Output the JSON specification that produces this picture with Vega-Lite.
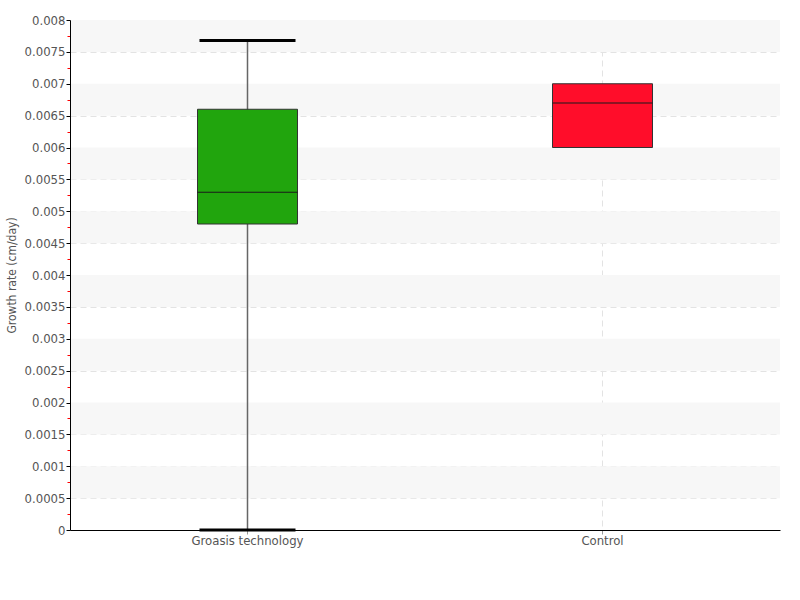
{
  "$schema": "https://vega.github.io/schema/vega-lite/v6.json",
  "width": 710,
  "height": 510,
  "autosize": "none",
  "padding": {"left": 70, "top": 20, "right": 20, "bottom": 70},
  "background": "white",
  "config": {
    "view": {"stroke": null},
    "font": "DejaVu Sans Condensed, DejaVu Sans",
    "axis": {"labelFont": "DejaVu Sans Condensed, DejaVu Sans", "titleFont": "DejaVu Sans Condensed, DejaVu Sans", "labelColor": "#555555", "titleColor": "#555555", "labelFontSize": 13, "titleFontSize": 12, "titleFontWeight": "normal"}
  },
  "datasets": {
    "boxes": [
      {"group": "Groasis technology", "min": 0, "q1": 0.0048, "median": 0.0053, "q3": 0.0066, "max": 0.00768},
      {"group": "Control", "min": null, "q1": 0.006, "median": 0.0067, "q3": 0.007, "max": null}
    ],
    "bands": [
      {"lo": 0.0075, "hi": 0.008},
      {"lo": 0.0065, "hi": 0.007},
      {"lo": 0.0055, "hi": 0.006},
      {"lo": 0.0045, "hi": 0.005},
      {"lo": 0.0035, "hi": 0.004},
      {"lo": 0.0025, "hi": 0.003},
      {"lo": 0.0015, "hi": 0.002},
      {"lo": 0.0005, "hi": 0.001}
    ]
  },
  "resolve": {"axis": {"y": "independent"}},
  "layer": [
    {
      "data": {"name": "bands"},
      "mark": {"type": "rect", "color": "#f7f7f7"},
      "encoding": {
        "y": {"field": "lo", "type": "quantitative", "scale": {"domain": [0, 0.008], "nice": false},
          "axis": {"orient": "left", "title": null, "values": [0.0005,0.001,0.0015,0.002,0.0025,0.003,0.0035,0.004,0.0045,0.005,0.0055,0.006,0.0065,0.007,0.0075,0.008],
            "labels": false, "ticks": false, "domain": false, "zindex": 0,
            "grid": true, "gridColor": "#e3e3e3", "gridDash": [6, 4], "gridWidth": 1}},
        "y2": {"field": "hi"}
      }
    },
    {
      "data": {"name": "boxes"},
      "mark": {"type": "rule", "color": "#666666", "strokeWidth": 1.5},
      "encoding": {
        "x": {"field": "group", "type": "nominal", "sort": ["Groasis technology", "Control"], "scale": {"paddingInner": 0, "paddingOuter": 0},
          "axis": {"title": null, "labelAngle": 0, "domainColor": "#000000", "tickColor": "#999999", "tickSize": 4, "labelPadding": 0,
            "grid": true, "gridColor": "#e3e3e3", "gridDash": [6, 4], "gridWidth": 1, "bandPosition": 0.5}},
        "y": {"field": "min", "type": "quantitative", "axis": {"orient": "left", "zindex": 1, "values": [0.00025,0.00075,0.00125,0.00175,0.00225,0.00275,0.00325,0.00375,0.00425,0.00475,0.00525,0.00575,0.00625,0.00675,0.00725,0.00775], "labels": false, "domain": false, "grid": false, "tickColor": "#ff0000", "tickSize": 3, "title": null}},
        "y2": {"field": "max"}
      }
    },
    {
      "data": {"name": "boxes"},
      "mark": {"type": "tick", "color": "#000000", "opacity": 1, "thickness": 3, "size": 96},
      "encoding": {
        "x": {"field": "group", "type": "nominal", "sort": ["Groasis technology", "Control"]},
        "y": {"field": "max", "type": "quantitative",
          "axis": {"orient": "left", "zindex": 1, "title": "Growth rate (cm/day)", "values": [0,0.0005,0.001,0.0015,0.002,0.0025,0.003,0.0035,0.004,0.0045,0.005,0.0055,0.006,0.0065,0.007,0.0075,0.008],
            "format": ".4~g", "domainColor": "#000000", "domainWidth": 1, "tickColor": "#000000", "tickSize": 4, "labelPadding": 1, "titlePadding": 6, "grid": false}}
      }
    },
    {
      "data": {"name": "boxes"},
      "mark": {"type": "tick", "color": "#000000", "opacity": 1, "thickness": 3, "size": 96},
      "encoding": {
        "x": {"field": "group", "type": "nominal", "sort": ["Groasis technology", "Control"]},
        "y": {"field": "min", "type": "quantitative", "axis": null}
      }
    },
    {
      "data": {"name": "boxes"},
      "mark": {"type": "bar", "width": 100, "stroke": "#333333", "strokeWidth": 1, "opacity": 1},
      "encoding": {
        "x": {"field": "group", "type": "nominal", "sort": ["Groasis technology", "Control"]},
        "y": {"field": "q1", "type": "quantitative", "axis": null},
        "y2": {"field": "q3"},
        "color": {"field": "group", "type": "nominal", "scale": {"domain": ["Groasis technology", "Control"], "range": ["#21a50d", "#ff0d2a"]}, "legend": null}
      }
    },
    {
      "data": {"name": "boxes"},
      "mark": {"type": "tick", "color": "#1a1a1a", "opacity": 1, "thickness": 1, "size": 100},
      "encoding": {
        "x": {"field": "group", "type": "nominal", "sort": ["Groasis technology", "Control"]},
        "y": {"field": "median", "type": "quantitative", "axis": null}
      }
    }
  ]
}
